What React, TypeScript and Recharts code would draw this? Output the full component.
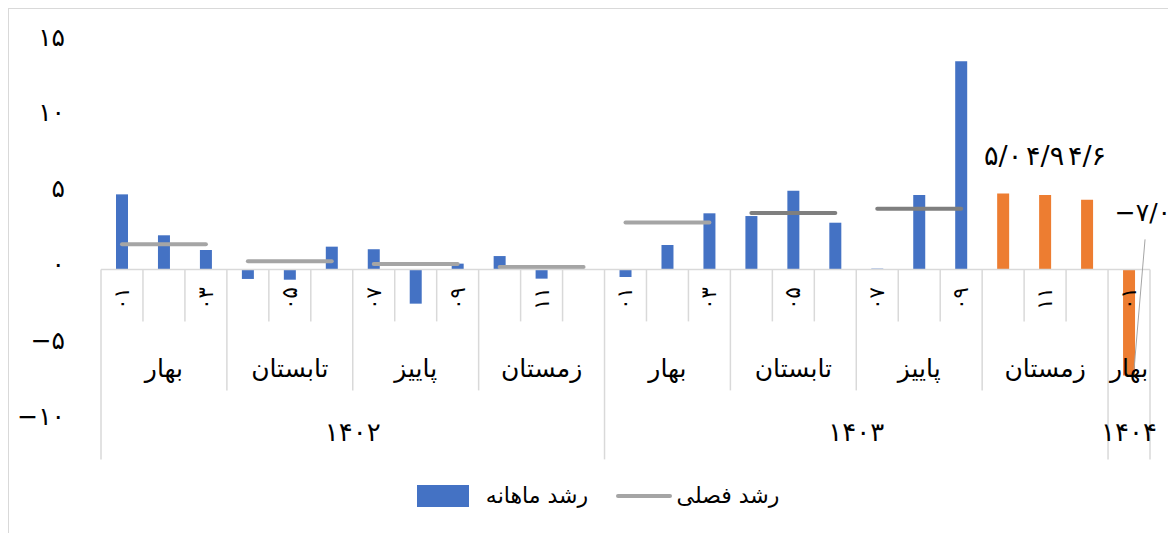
import React from 'react';
import { Bar, Cell, ComposedChart, LabelList, Legend, Line, ReferenceLine, XAxis, YAxis } from 'recharts';

// monthly growth, 1402/01 .. 1404/01
const years = ['۱۴۰۲', '۱۴۰۳', '۱۴۰۴'];
const yearMonthCount = [12, 12, 1];
const seasons = ['بهار', 'تابستان', 'پاییز', 'زمستان'];
const monthLabels = ['۰۱', '۰۲', '۰۳', '۰۴', '۰۵', '۰۶', '۰۷', '۰۸', '۰۹', '۱۰', '۱۱', '۱۲'];

const monthlyGrowth = [
  4.95, 2.25, 1.28, -0.63, -0.68, 1.5, 1.33, -2.26, 0.38, 0.88, -0.61, 0,
  -0.5, 1.61, 3.7, 3.52, 5.19, 3.08, 0.05, 4.91, 13.73, 5.0, 4.9, 4.6,
  -7.0,
];
const firstForecast = 21;

// one value per season (first 7 seasons only)
const seasonalGrowth = [1.66, 0.53, 0.36, 0.16, 3.1, 3.72, 4.0];
const seasonalDark = [false, false, false, false, false, true, true];

const yTicks = [-10, -5, 0, 5, 10, 15];

const BLUE = '#4472C4';
const ORANGE = '#ED7D31';
const GRAY = '#A5A5A5';
const DARK_GRAY = '#7F7F7F';
const AXIS = '#D9D9D9';
const FONT = '"DejaVu Sans", sans-serif';

const faDigits = (s: string) => s.replace(/\d/g, (d) => '۰۱۲۳۴۵۶۷۸۹'[Number(d)]);
const faNum = (n: number) => (n < 0 ? '−' : '') + faDigits(String(Math.abs(n)));
const faDec = (n: number) => (n < 0 ? '−' : '') + faDigits(Math.abs(n).toFixed(1)).replace('.', '/');

const categories: { year: number; month: number }[] = [];
yearMonthCount.forEach((count, y) => {
  for (let m = 0; m < count; m++) categories.push({ year: y, month: m });
});

const data = monthlyGrowth.map((v, i) => {
  const row: Record<string, number | null> = { idx: i, monthly: v, forecast: i >= firstForecast ? v : null };
  const s = Math.floor(i / 3);
  if (s < seasonalGrowth.length) row['s' + s] = seasonalGrowth[s];
  return row;
});

function CategoryAxis(props: any) {
  const { x1, x2, y1 } = props;
  const n = categories.length;
  const w = (x2 - x1) / n;
  const zy = y1;
  const parts: React.ReactNode[] = [];

  for (let i = 0; i <= n; i++) {
    const x = x1 + i * w;
    const isYear = i === n || categories[i].month === 0;
    const isSeason = isYear || categories[i].month % 3 === 0;
    const len = isYear ? 190 : isSeason ? 121 : 52;
    parts.push(<line key={'t' + i} x1={x} x2={x} y1={zy} y2={zy + len} stroke={AXIS} strokeWidth={1.5} />);
  }

  categories.forEach((c, i) => {
    if (i % 2 !== 0) return;
    const cx = x1 + (i + 0.5) * w;
    const cy = zy + 29;
    parts.push(
      <text key={'m' + i} x={cx} y={cy} transform={`rotate(-90 ${cx} ${cy})`} textAnchor="middle" dominantBaseline="central" fontSize={21} fontFamily={FONT} fill="#000">
        {monthLabels[c.month]}
      </text>,
    );
  });

  // season groups
  let start = 0;
  for (let i = 1; i <= n; i++) {
    const endGroup = i === n || categories[i].month % 3 === 0;
    if (!endGroup) continue;
    const c = categories[start];
    const cx = x1 + ((start + i) / 2) * w;
    parts.push(
      <text key={'s' + start} x={cx} y={zy + 99} textAnchor="middle" dominantBaseline="central" fontSize={25} fontFamily={FONT} fill="#000">
        {seasons[Math.floor(c.month / 3)]}
      </text>,
    );
    start = i;
  }

  // years
  let offset = 0;
  yearMonthCount.forEach((count, y) => {
    const cx = x1 + (offset + count / 2) * w;
    parts.push(
      <text key={'y' + y} x={cx} y={zy + 163} textAnchor="middle" dominantBaseline="central" fontSize={26} fontFamily={FONT} fill="#000">
        {years[y]}
      </text>,
    );
    offset += count;
  });

  parts.push(<line key="zero" x1={x1} x2={x2} y1={zy} y2={zy} stroke={AXIS} strokeWidth={1.5} />);
  return <g>{parts}</g>;
}

function ForecastLabel(props: any) {
  const { x, y, width, height, value } = props;
  if (value === null || value === undefined) return null;
  const cx = x + width / 2;
  const zy = y + height;
  if (value >= 0) {
    return (
      <text x={cx} y={zy - 104} textAnchor="middle" fontSize={27} fontFamily={FONT} fill="#000">
        {faDec(value)}
      </text>
    );
  }
  return (
    <g>
      <line x1={cx + 16} y1={zy - 30} x2={cx + 5} y2={y - 6} stroke={GRAY} strokeWidth={1} />
      <text x={cx + 42} y={zy - 48} textAnchor="end" fontSize={25} fontFamily={FONT} fill="#000">
        {faDec(value)}
      </text>
    </g>
  );
}

function YTick(props: any) {
  const { x, y, payload } = props;
  return (
    <text x={x - 28} y={y - 5} textAnchor="end" dominantBaseline="central" fontSize={25} fontFamily={FONT} fill="#000">
      {faNum(payload.value)}
    </text>
  );
}

function LegendBox() {
  return (
    <div style={{ position: 'relative', height: 30, fontFamily: FONT, fontSize: 22, color: '#000' }}>
      <div style={{ position: 'absolute', left: 408, top: 4, width: 52, height: 22, background: BLUE }} />
      <div style={{ position: 'absolute', left: 472, top: 0, width: 112, textAlign: 'center', direction: 'rtl', lineHeight: '30px' }}>رشد ماهانه</div>
      <div style={{ position: 'absolute', left: 607, top: 13, width: 56, height: 4, borderRadius: 2, background: GRAY }} />
      <div style={{ position: 'absolute', left: 664, top: 0, width: 110, textAlign: 'center', direction: 'rtl', lineHeight: '30px' }}>رشد فصلی</div>
    </div>
  );
}

export default function App() {
  return (
    <div style={{ width: 1167, height: 524, borderLeft: `1px solid ${AXIS}`, borderTop: `1px solid ${AXIS}`, background: '#fff' }}>
      <ComposedChart width={1167} height={524} data={data} margin={{ top: 33, right: 26, left: 0, bottom: 112 }} barSize={12}>
        <XAxis dataKey="idx" type="category" hide />
        <YAxis domain={[-10, 15]} ticks={yTicks} width={92} axisLine={false} tickLine={false} tick={<YTick />} interval={0} />
        <Bar dataKey="monthly" isAnimationActive={false}>
          {data.map((_, i) => (
            <Cell key={i} fill={i >= firstForecast ? ORANGE : BLUE} />
          ))}
          <LabelList dataKey="forecast" content={<ForecastLabel />} />
        </Bar>
        {seasonalGrowth.map((_, s) => (
          <Line
            key={s}
            dataKey={'s' + s}
            stroke={seasonalDark[s] ? DARK_GRAY : GRAY}
            strokeWidth={4}
            strokeLinecap="round"
            dot={false}
            activeDot={false}
            isAnimationActive={false}
            connectNulls={false}
          />
        ))}
        <ReferenceLine y={0} shape={<CategoryAxis />} />
        <Legend
          layout="vertical"
          align="center"
          verticalAlign="middle"
          wrapperStyle={{ top: 472, left: 0, width: 1167 }}
          content={<LegendBox />}
        />
      </ComposedChart>
    </div>
  );
}
